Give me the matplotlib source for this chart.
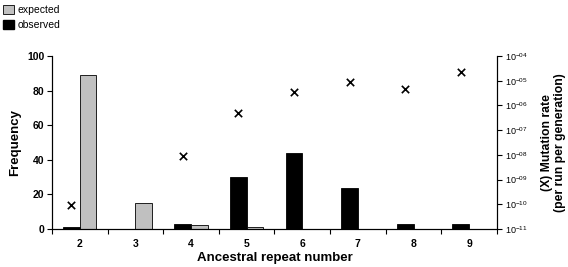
import numpy as np
import matplotlib
matplotlib.use('Agg')
import matplotlib.pyplot as plt
from matplotlib.patches import Patch
from matplotlib.ticker import FixedLocator, FuncFormatter

plt.rcParams['font.family'] = ['Liberation Sans', 'DejaVu Sans']
plt.rcParams['mathtext.fontset'] = 'custom'
plt.rcParams['mathtext.rm'] = 'Liberation Sans'
plt.rcParams['mathtext.it'] = 'Liberation Sans'
plt.rcParams['mathtext.bf'] = 'Liberation Sans:bold'

# data
repeats = ['2', '3', '4', '5', '6', '7', '8', '9']
observed = [1, 0, 3, 30, 44, 24, 3, 3]
expected = [89, 15, 2.5, 1, 0, 0, 0, 0]
mut_rate = [9.5e-11, None, 9e-9, 4.8e-7, 3.5e-6, 9e-6, 4.6e-6, 2.3e-5]

x = np.arange(len(repeats))
w = 0.3

fig = plt.figure(figsize=(5.68, 2.67), dpi=100)
ax = fig.add_axes([0.0915, 0.1423, 0.7835, 0.6477])

ax.bar(x - w / 2, observed, width=w, color='black', edgecolor='black', linewidth=0.6)
ax.bar(x + w / 2, expected, width=w, color='#c0c0c0', edgecolor='black', linewidth=0.6)

ax.set_xlim(-0.5, len(repeats) - 0.5)
ax.set_ylim(0, 100)
ax.set_yticks([0, 20, 40, 60, 80, 100])
ax.set_xticks(x)
ax.set_xticklabels(repeats)
ax.xaxis.set_minor_locator(FixedLocator(np.arange(-0.5, len(repeats), 1.0)))
ax.tick_params(axis='x', which='major', length=0, pad=7, labelsize=7.5)
ax.tick_params(axis='x', which='minor', length=3.5, width=0.8, direction='out')
ax.tick_params(axis='y', length=3.5, width=0.8, labelsize=7.5, pad=2)
for lab in ax.get_xticklabels() + ax.get_yticklabels():
    lab.set_fontweight('bold')
ax.spines['top'].set_visible(False)
for s in ['left', 'bottom', 'right']:
    ax.spines[s].set_linewidth(0.8)

ax.set_xlabel('Ancestral repeat number', fontsize=9.5, fontweight='bold', labelpad=2)
ax.set_ylabel('Frequency', fontsize=9.5, fontweight='bold', labelpad=4)

ax2 = ax.twinx()
ax2.set_yscale('log')
ax2.set_ylim(1e-11, 1e-4)
mx = [xi - w / 2 for xi, m in zip(x, mut_rate) if m is not None]
my = [m for m in mut_rate if m is not None]
ax2.scatter(mx, my, marker='x', s=28, color='black', linewidths=1.2, zorder=5)
ax2.yaxis.set_major_locator(FixedLocator([10.0 ** k for k in range(-11, -3)]))
ax2.yaxis.set_minor_locator(FixedLocator([]))
ax2.yaxis.set_major_formatter(FuncFormatter(
    lambda v, p: r'$10^{-%02d}$' % round(-np.log10(v))))
ax2.tick_params(axis='y', length=3.5, width=0.8, labelsize=6.5, pad=2)
ax2.spines['top'].set_visible(False)
ax2.spines['right'].set_linewidth(0.8)
ax2.set_ylabel('(X) Mutation rate\n(per run per generation)', fontsize=8.8,
               fontweight='bold', labelpad=10, linespacing=1.1)

handles = [Patch(facecolor='#c0c0c0', edgecolor='black', linewidth=0.6, label='expected'),
           Patch(facecolor='black', edgecolor='black', label='observed')]
fig.legend(handles=handles, loc='upper left', bbox_to_anchor=(-0.005, 1.005),
           frameon=False, fontsize=7.5, handlelength=1.0, handleheight=1.0,
           handletextpad=0.4, labelspacing=0.45, borderaxespad=0.2)

fig.savefig('out.png', dpi=100)
